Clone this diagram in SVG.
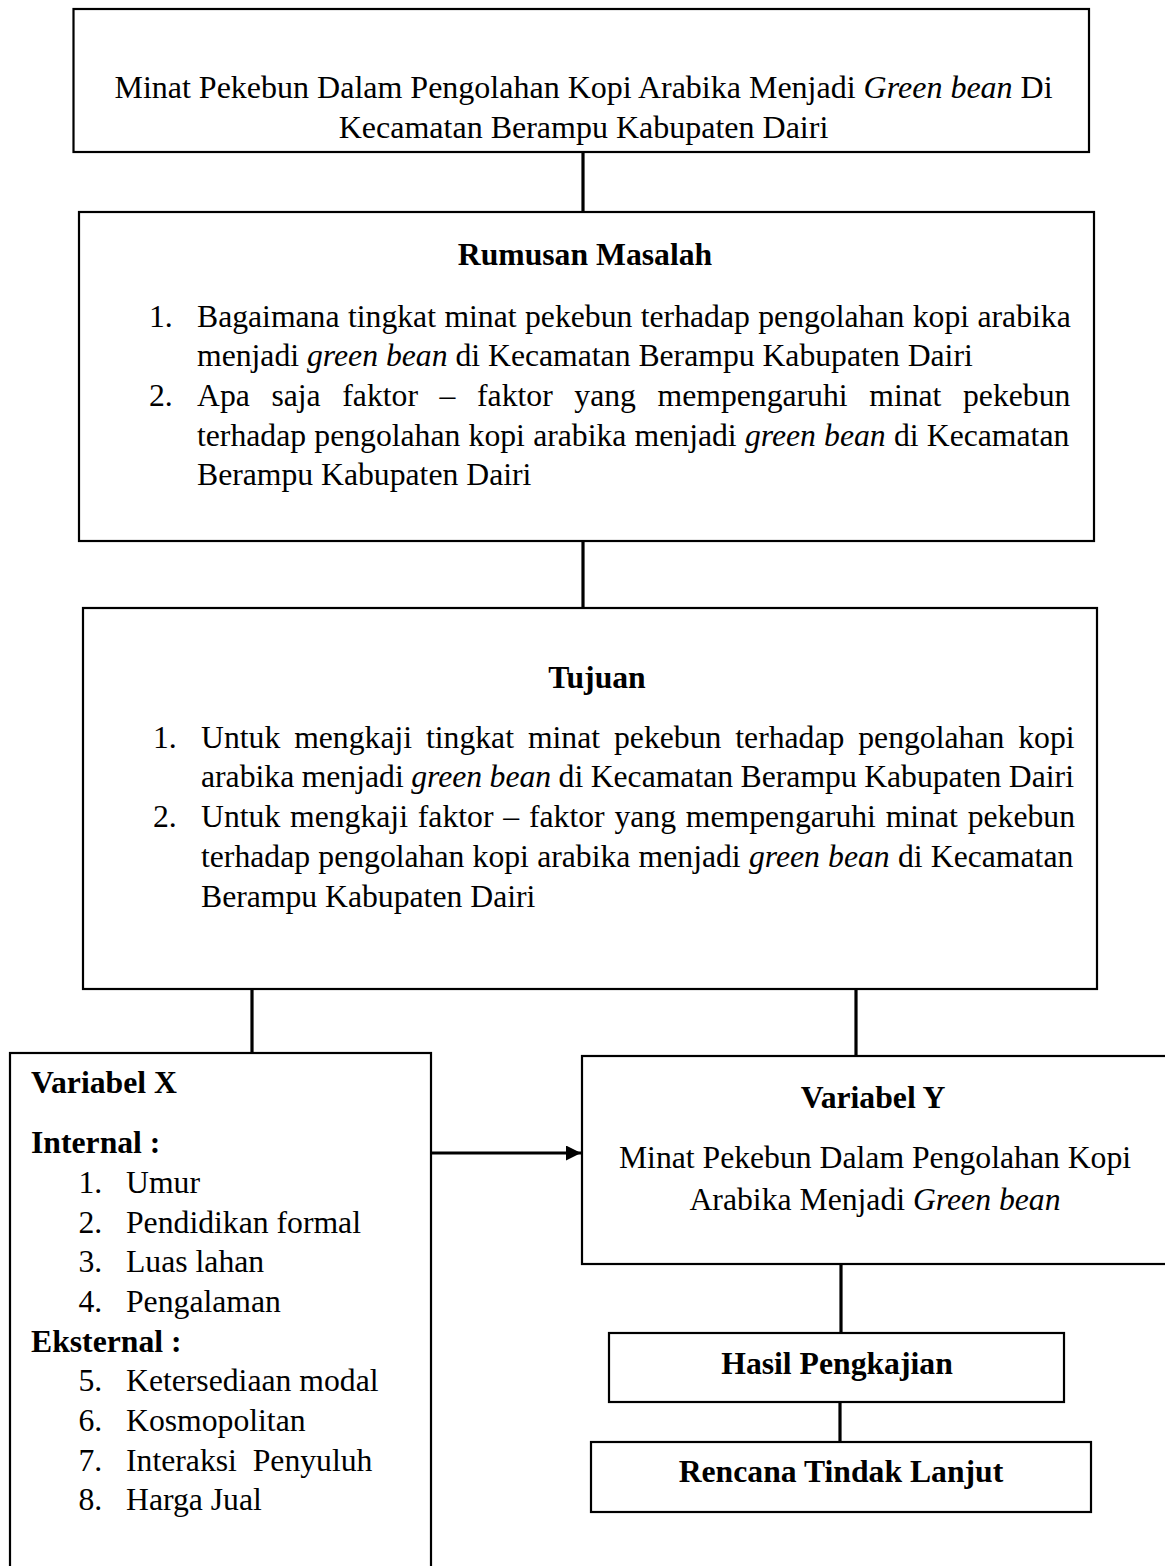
<svg xmlns="http://www.w3.org/2000/svg" width="1165" height="1566" viewBox="0 0 1165 1566">
<defs>
<style>
.box{fill:#fff;stroke:#000;stroke-width:2.2}
.con{stroke:#000;stroke-width:3.2;fill:none}
text{font-family:"Liberation Serif","Times New Roman",serif;font-size:31.7px;fill:#000}
.b{font-weight:bold}
.c{text-anchor:middle}
.i{font-style:italic}
.big{font-size:32px}
</style>
<marker id="ah" markerWidth="16" markerHeight="16" refX="15" refY="7.5" orient="auto" markerUnits="userSpaceOnUse">
<path d="M0,0 L15,7.5 L0,15 Z" fill="#000"/>
</marker>
</defs>
<rect width="1165" height="1566" fill="#fff"/>

<g id="connectors">
<line class="con" x1="583" y1="152" x2="583" y2="212"/>
<line class="con" x1="583" y1="541" x2="583" y2="608"/>
<line class="con" x1="252" y1="989" x2="252" y2="1053"/>
<line class="con" x1="856" y1="989" x2="856" y2="1056"/>
<line class="con" x1="841" y1="1263" x2="841" y2="1333"/>
<line class="con" x1="840" y1="1403" x2="840" y2="1442"/>
<line class="con" x1="431" y1="1153" x2="581" y2="1153" marker-end="url(#ah)"/>
</g>

<g id="judul">
<rect class="box" x="73.5" y="9" width="1015.5" height="143"/>
<text class="c big" x="583.5" y="98">Minat Pekebun Dalam Pengolahan Kopi Arabika Menjadi <tspan class="i">Green bean</tspan> Di</text>
<text class="c big" x="583.5" y="138">Kecamatan Berampu Kabupaten Dairi</text>
</g>

<g id="rumusan-masalah">
<rect class="box" x="79" y="212" width="1015" height="329"/>
<text class="b c" x="585" y="265">Rumusan Masalah</text>
<text x="149" y="327">1.</text>
<text x="197" y="327" style="word-spacing:0.5px">Bagaimana tingkat minat pekebun terhadap pengolahan kopi arabika</text>
<text x="197" y="366">menjadi <tspan class="i">green bean</tspan> di Kecamatan Berampu Kabupaten Dairi</text>
<text x="149" y="406">2.</text>
<text x="197" y="406" style="word-spacing:13.7px">Apa saja faktor – faktor yang mempengaruhi minat pekebun</text>
<text x="197" y="446" style="word-spacing:0.3px">terhadap pengolahan kopi arabika menjadi <tspan class="i">green bean</tspan> di Kecamatan</text>
<text x="197" y="485">Berampu Kabupaten Dairi</text>
</g>

<g id="tujuan">
<rect class="box" x="83" y="608" width="1014" height="381"/>
<text class="b c" x="597" y="688">Tujuan</text>
<text x="153" y="748">1.</text>
<text x="201" y="748" style="word-spacing:6px">Untuk mengkaji tingkat minat pekebun terhadap pengolahan kopi</text>
<text x="201" y="787" style="word-spacing:-0.5px">arabika menjadi <tspan class="i">green bean</tspan> di Kecamatan Berampu Kabupaten Dairi</text>
<text x="153" y="827">2.</text>
<text x="201" y="827" style="word-spacing:1.9px">Untuk mengkaji faktor – faktor yang mempengaruhi minat pekebun</text>
<text x="201" y="867" style="word-spacing:0.3px">terhadap pengolahan kopi arabika menjadi <tspan class="i">green bean</tspan> di Kecamatan</text>
<text x="201" y="907">Berampu Kabupaten Dairi</text>
</g>

<g id="variabel-x">
<rect class="box" x="10" y="1053" width="421" height="540"/>
<text class="b" x="31" y="1093">Variabel X</text>
<text class="b" x="31" y="1153">Internal :</text>
<text x="78.5" y="1193">1.</text><text x="126" y="1193">Umur</text>
<text x="78.5" y="1233">2.</text><text x="126" y="1233">Pendidikan formal</text>
<text x="78.5" y="1272">3.</text><text x="126" y="1272">Luas lahan</text>
<text x="78.5" y="1312">4.</text><text x="126" y="1312">Pengalaman</text>
<text class="b" x="31" y="1352">Eksternal :</text>
<text x="78.5" y="1391">5.</text><text x="126" y="1391">Ketersediaan modal</text>
<text x="78.5" y="1431">6.</text><text x="126" y="1431">Kosmopolitan</text>
<text x="78.5" y="1471">7.</text><text x="126" y="1471" xml:space="preserve">Interaksi  Penyuluh</text>
<text x="78.5" y="1510">8.</text><text x="126" y="1510">Harga Jual</text>
</g>

<g id="variabel-y">
<rect class="box" x="582" y="1056" width="620" height="208"/>
<text class="b c" x="873" y="1108">Variabel Y</text>
<text class="c" x="875" y="1168">Minat Pekebun Dalam Pengolahan Kopi</text>
<text class="c" x="875" y="1210">Arabika Menjadi <tspan class="i">Green bean</tspan></text>
</g>

<g id="hasil-pengkajian">
<rect class="box" x="609" y="1333" width="455" height="69"/>
<text class="b c" x="837" y="1374">Hasil Pengkajian</text>
</g>

<g id="rencana-tindak-lanjut">
<rect class="box" x="591" y="1442" width="500" height="70"/>
<text class="b c" x="841" y="1482">Rencana Tindak Lanjut</text>
</g>
</svg>
